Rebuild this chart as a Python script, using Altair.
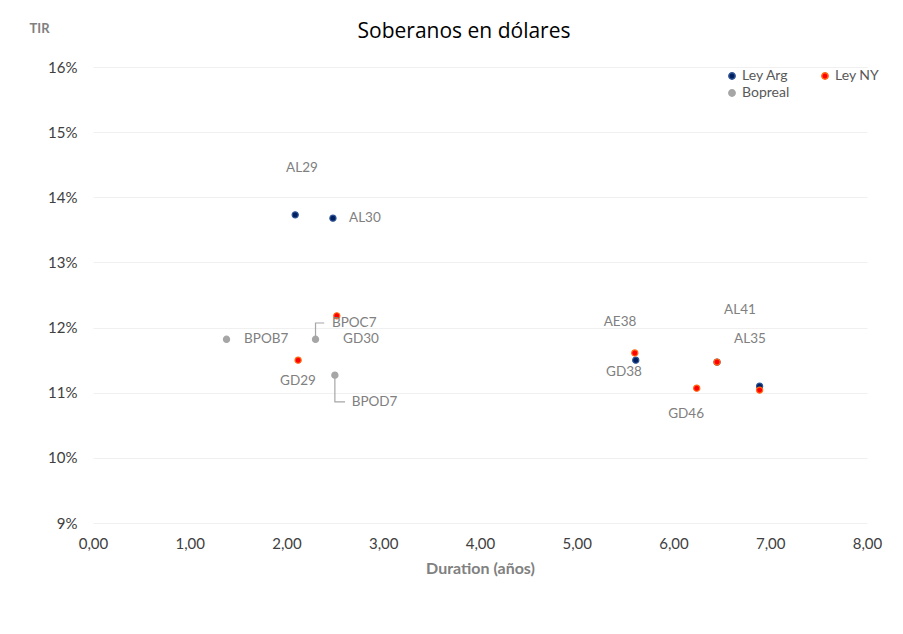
import altair as alt
import pandas as pd

# ---- data ----
ley_arg_names = ["AL29", "AL30", "AE38", "AL35", "AL41"]
ley_arg_dur = [2.09, 2.48, 5.61, 6.45, 6.89]
ley_arg_tir = [13.73, 13.68, 11.50, 11.47, 11.10]

ley_ny_names = ["GD29", "GD30", "GD38", "GD35", "GD46", "GD41"]
ley_ny_dur = [2.12, 2.52, 5.60, 6.45, 6.24, 6.89]
ley_ny_tir = [11.50, 12.18, 11.61, 11.47, 11.07, 11.04]

bopreal_names = ["BPOB7", "BPOC7", "BPOD7"]
bopreal_dur = [1.38, 2.30, 2.50]
bopreal_tir = [11.82, 11.82, 11.27]

# legend order (laid out column by column: Ley Arg / Bopreal, then Ley NY)
series = ["Ley Arg", "Bopreal", "Ley NY"]
fill_colors = ["#002060", "#a6a6a6", "#ff0000"]
stroke_colors = ["#2f5597", "#a6a6a6", "#ff6a13"]

label_text = ["AL29", "AL30", "AE38", "GD38", "AL41", "AL35", "GD46", "GD29", "GD30", "BPOC7", "BPOD7", "BPOB7"]
label_dur = [2.16, 2.81, 5.447, 5.488, 6.687, 6.79, 6.13, 2.119, 2.77, 2.70, 2.91, 1.79]
label_tir = [14.45, 13.68, 12.085, 11.32, 12.27, 11.82, 10.67, 11.18, 11.82, 12.07, 10.86, 11.82]

leader_id = ["BPOC7", "BPOC7", "BPOC7", "BPOD7", "BPOD7", "BPOD7"]
leader_dur = [2.30, 2.30, 2.39, 2.50, 2.50, 2.605]
leader_tir = [11.82, 12.07, 12.07, 11.27, 10.86, 10.86]
leader_step = [0, 1, 2, 0, 1, 2]

x_ticks = [0, 1, 2, 3, 4, 5, 6, 7, 8]
y_ticks = [9, 10, 11, 12, 13, 14, 15, 16]

# ---- tables ----
pts = pd.DataFrame({
    "name": ley_arg_names + ley_ny_names + bopreal_names,
    "dur": ley_arg_dur + ley_ny_dur + bopreal_dur,
    "tir": ley_arg_tir + ley_ny_tir + bopreal_tir,
    "serie": ["Ley Arg"] * len(ley_arg_names) + ["Ley NY"] * len(ley_ny_names) + ["Bopreal"] * len(bopreal_names),
})
labels = pd.DataFrame({"text": label_text, "dur": label_dur, "tir": label_tir})
leaders = pd.DataFrame({"id": leader_id, "dur": leader_dur, "tir": leader_tir, "step": leader_step})

FONT = "Lato"
xscale = alt.Scale(domain=[0, 8], nice=False, zero=False)
yscale = alt.Scale(domain=[9, 16], nice=False, zero=False)

xenc = alt.X("dur:Q", scale=xscale, axis=alt.Axis(
    values=x_ticks, title="Duration (años)", grid=False, domain=False, ticks=False, labelFlush=False,
    labelExpr="replace(format(datum.value, '.2f'), '.', ',')",
    labelFont=FONT, labelFontSize=15, labelColor="#404040", labelPadding=13,
    titleFont=FONT, titleFontSize=16, titleFontWeight="bold", titleColor="#808080", titlePadding=9))
yenc = alt.Y("tir:Q", scale=yscale, axis=alt.Axis(
    values=y_ticks, title="TIR", grid=True, gridColor="#f0f0f0", domain=False, ticks=False, labelFlush=False,
    labelExpr="datum.value + '%'",
    labelFont=FONT, labelFontSize=15, labelColor="#404040", labelPadding=16,
    titleFont=FONT, titleFontSize=13, titleFontWeight="bold", titleColor="#808080",
    titleAngle=0, titleAlign="left", titleBaseline="middle", titleX=-64, titleY=-39))

legend = alt.Legend(title=None, orient="none", legendX=632, legendY=2, columns=2,
                    columnPadding=28, rowPadding=3, symbolSize=40, symbolType="circle", labelOffset=3,
                    labelFont=FONT, labelFontSize=14, labelColor="#595959")

lines = alt.Chart(leaders).mark_line(color="#a6a6a6", strokeWidth=1.2).encode(
    x=alt.X("dur:Q", scale=xscale), y=alt.Y("tir:Q", scale=yscale), detail="id:N", order="step:Q")

points = alt.Chart(pts).mark_point(filled=True, size=38, strokeWidth=1.2, opacity=1).encode(
    x=xenc, y=yenc,
    fill=alt.Fill("serie:N", scale=alt.Scale(domain=series, range=fill_colors), legend=legend),
    stroke=alt.Stroke("serie:N", scale=alt.Scale(domain=series, range=stroke_colors), legend=legend),
)

texts = alt.Chart(labels).mark_text(font=FONT, fontSize=13.5, color="#808080", align="center", baseline="middle").encode(
    x=alt.X("dur:Q", scale=xscale), y=alt.Y("tir:Q", scale=yscale), text="text:N")

chart = alt.layer(lines, points, texts).properties(
    width=774, height=456,
    background="white",
    title=alt.TitleParams("Soberanos en dólares", font="Open Sans", fontSize=21, fontWeight="normal",
                          color="#000000", anchor="middle", dx=-16, dy=20, offset=0),
    autosize=alt.AutoSizeParams(type="none"),
    padding={"left": 85, "top": 59, "right": 28, "bottom": 100},
).configure_view(stroke=None)

chart.save("out.html", embed_options={"renderer": "svg", "actions": False})
